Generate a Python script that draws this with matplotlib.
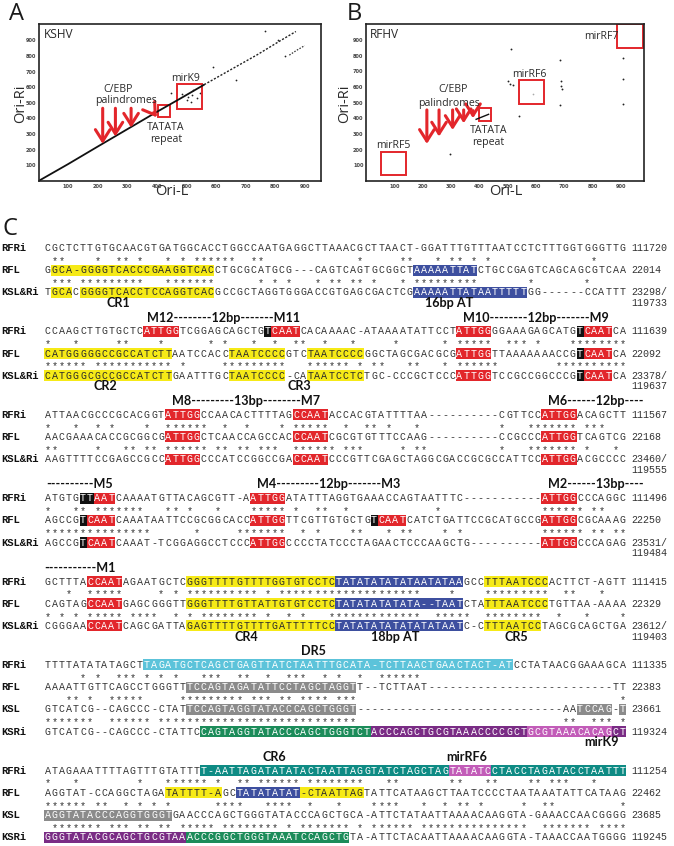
import matplotlib
matplotlib.use("Agg")
import matplotlib.pyplot as plt
from matplotlib.patches import Rectangle

FIG_W, FIG_H = 674, 846
MONO = ["Liberation Mono", "DejaVu Sans Mono"]
SANS = ["Open Sans", "DejaVu Sans"]
BOLD = ["Lato", "DejaVu Sans"]
RED = "#e3262b"

# ------------------------------ dot plot data ------------------------------
# KSHV: Ori-L position (x) against Ori-Ri position (y), bp
kshv_line_x = [0, 100, 200, 300, 400, 480, 560]
kshv_line_y = [0, 108, 220, 331, 442, 528, 616]
kshv_tail_x = [560, 650, 740, 820, 870]
kshv_tail_y = [616, 712, 808, 900, 956]
kshv_side_x = [848, 872, 900]
kshv_side_y = [805, 835, 866]
kshv_dot_x = [766, 811, 833, 589, 668, 448, 484, 507, 518, 523, 501, 515, 535, 545]
kshv_dot_y = [959, 902, 800, 731, 646, 561, 556, 539, 550, 582, 518, 507, 528, 560]

# RFHV
rfhv_seg_x = [389, 411, 433]
rfhv_seg_y = [394, 410, 426]
rfhv_dot_x = [512, 540, 298, 684, 689, 689, 692, 686, 909, 909, 909, 500, 510, 521]
rfhv_dot_y = [842, 416, 173, 774, 640, 608, 586, 484, 785, 652, 495, 640, 617, 614]
rfhv_faint_x = [589]
rfhv_faint_y = [556]

ticks = [100, 200, 300, 400, 500, 600, 700, 800, 900]

# annotations (bp coordinates)
kshv_arrows = [(217, 465, 217, 237), (260, 465, 260, 284), (313, 465, 313, 341), (389, 437, 400, 407)]
kshv_boxes = [(405, 412, 38, 74), (467, 458, 85, 160)]
kshv_notes = [("KSHV", 17, 934, "left", 8.6), ("C/EBP", 270, 588, "center", 7.6),
              ("palindromes", 296, 512, "center", 7.6), ("TATATA", 430, 341, "center", 7.6),
              ("repeat", 430, 266, "center", 7.6), ("mirK9", 498, 654, "center", 7.6)]
rfhv_arrows = [(215, 454, 215, 237), (258, 454, 258, 284), (306, 454, 306, 326),
               (345, 454, 345, 369), (378, 450, 378, 401)]
rfhv_boxes = [(54, 38, 87, 150), (539, 490, 90, 156), (398, 386, 42, 79), (888, 849, 90, 153)]
rfhv_notes = [("RFHV", 15, 934, "left", 8.6), ("C/EBP", 306, 582, "center", 7.6),
              ("palindromes", 292, 497, "center", 7.6), ("TATATA", 433, 322, "center", 7.6),
              ("repeat", 433, 245, "center", 7.6), ("mirRF5", 98, 224, "center", 7.6),
              ("mirRF6", 578, 682, "center", 7.6), ("mirRF7", 831, 923, "center", 7.6)]

# ------------------------------ alignment data ------------------------------
names_3 = ["RFRi", "RFL", "KSL&Ri"]
names_4 = ["RFRi", "RFL", "KSL", "KSRi"]

seq_1 = ["CGCTCTTGTGCAACGTGATGGCACCTGGCCAATGAGGCTTAAACGCTTAACT-GGATTTGTTTAATCCTCTTTGGTGGGTTG",
         "GGCA-GGGGTCACCCGAAGGTCACCTGCGCATGCG---CAGTCAGTGCGGCTAAAAATTATCTGCCGAGTCAGCAGCGTCAA",
         "TGCACGGGGTCACCTCCAGGTCACGCCGCTAGGTGGGACCGTGAGCGACTCGAAAAATTATAATTTTTGG------CCATTT"]
end_1 = ["111720", "22014", "23298/", "119733"]
box_1 = [(1, 1, 23, "yellow"), (2, 1, 3, "yellow"), (2, 5, 23, "yellow"),
         (1, 52, 60, "blue"), (2, 52, 67, "blue")]
head_1 = []
foot_1 = [("CR1", 10.5), ("16bp AT", 57.0)]

seq_2 = ["CCAAGCTTGTGCTCATTGGTCGGAGCAGCTGTCAATCACAAAAC-ATAAAATATTCCTATTGGGGAAAGAGCATGTCAATCA",
         "CATGGGGGCCGCCATCTTAATCCACCTAATCCCCGTCTAATCCCCGGCTAGCGACGCGATTGGTTAAAAAAACCGTCAATCA",
         "CATGGGCGCCGCCATCTTGAATTTGCTAATCCCC-CATAATCCTCTGC-CCCGCTCCCATTGGTCCGCCGGCCCGTCAATCA"]
end_2 = ["111639", "22092", "23378/", "119637"]
box_2 = [(0, 14, 18, "red"), (0, 31, 31, "black"), (0, 32, 35, "red"), (0, 58, 62, "red"),
         (0, 75, 75, "black"), (0, 76, 79, "red"),
         (1, 0, 17, "yellow"), (1, 26, 33, "yellow"), (1, 37, 44, "yellow"), (1, 58, 62, "red"),
         (1, 75, 75, "black"), (1, 76, 79, "red"),
         (2, 0, 17, "yellow"), (2, 26, 33, "yellow"), (2, 37, 44, "yellow"), (2, 58, 62, "red"),
         (2, 75, 75, "black"), (2, 76, 79, "red")]
head_2 = [("M12--------12bp-------M11", 14.5, 36.0), ("M10--------12bp-------M9", 59.0, 79.6)]
foot_2 = [("CR2", 8.6), ("CR3", 36.0)]

seq_3 = ["ATTAACGCCCGCACGGTATTGGCCAACACTTTTAGCCAATACCACGTATTTTAA----------CGTTCCATTGGACAGCTT",
         "AACGAAACACCGCGGCGATTGGCTCAACCAGCCACCCAATCGCGTGTTTCCAAG----------CCGCCCATTGGTCAGTCG",
         "AAGTTTTCCGAGCCGCCATTGGCCCATCCGGCCGACCAATCCCGTTCGAGCTAGGCGACCGCGCCATTCCATTGGACGCCCC"]
end_3 = ["111567", "22168", "23460/", "119555"]
box_3 = [(r, a, b, "red") for r in range(3) for (a, b) in [(17, 21), (35, 39), (70, 74)]]
head_3 = [("M8---------13bp--------M7", 17.6, 39.2), ("M6------12bp----", 70.8, 84.6)]
foot_3 = []

seq_4 = ["ATGTGTTAATCAAAATGTTACAGCGTT-AATTGGATATTTAGGTGAAACCAGTAATTTC-----------ATTGGCCCAGGC",
         "AGCCGTCAATCAAATAATTCCGCGGCACCATTGGTTCGTTGTGCTGTCAATCATCTGATTCCGCATGCCGATTGGCGCAAAG",
         "AGCCGTCAATCAAAT-TCGGAGGCCTCCCATTGGCCCCTATCCCTAGAACTCCCAAGCTG----------ATTGGCCCAGAG"]
end_4 = ["111496", "22250", "23531/", "119484"]
box_4 = [(0, 5, 6, "black"), (0, 7, 9, "red"), (0, 29, 33, "red"), (0, 70, 74, "red"),
         (1, 5, 5, "black"), (1, 6, 9, "red"), (1, 29, 33, "red"), (1, 46, 46, "black"),
         (1, 47, 50, "red"), (1, 70, 74, "red"),
         (2, 5, 5, "black"), (2, 6, 9, "red"), (2, 29, 33, "red"), (2, 70, 74, "red")]
head_4 = [("----------M5", 0.0, 10.0), ("M4---------12bp-------M3", 29.8, 50.5),
          ("M2------13bp----", 70.8, 84.6)]
foot_4 = []

seq_5 = ["GCTTTACCAATAGAATGCTCGGGTTTTGTTTTGGTGTCCTCTATATATATATAATATAAGCCTTTAATCCCACTTCT-AGTT",
         "CAGTAGCCAATGAGCGGGTTGGGTTTTGTTATTGTGTCCTCTATATATATATA--TAATCTATTTAATCCCTGTTAA-AAAA",
         "CGGGAACCAATCAGCGATTAGAGTTTTGTTTTGATTTTTCCTATATATATATATATAATC-CTTTAATCCTAGCGCAGCTGA"]
end_5 = ["111415", "22329", "23612/", "119403"]
box_5 = [(r, 6, 10, "red") for r in range(3)] + [(r, 20, 40, "yellow") for r in range(3)] + \
        [(r, 41, 58, "blue") for r in range(3)] + \
        [(0, 62, 70, "yellow"), (1, 62, 70, "yellow"), (2, 62, 69, "yellow")]
head_5 = [("-----------M1", 0.0, 10.0)]
foot_5 = [("CR4", 28.5), ("18bp AT", 49.4), ("CR5", 66.5)]

seq_6 = ["TTTTATATATAGCTTAGATGCTCAGCTGAGTTATCTAATTTGCATA-TCTTAACTGAACTACT-ATCCTATAACGGAAAGCA",
         "AAAATTGTTCAGCCTGGGTTTCCAGTAGATATTCCTAGCTAGGTT--TCTTAAT--------------------------TT",
         "GTCATCG--CAGCCC-CTATTCCAGTAGGTATACCCAGCTGGGT-----------------------------AATCCAG-T",
         "GTCATCG--CAGCCC-CTATTCCAGTAGGTATACCCAGCTGGGTCTACCCAGCTGCGTAAACCCCGCTGCGTAAACACAGCT"]
end_6 = ["111335", "22383", "23661", "119324", ""]
box_6 = [(0, 14, 65, "cyan"), (1, 20, 43, "grey"), (2, 20, 43, "grey"), (2, 75, 79, "grey"),
         (2, 81, 81, "grey"), (3, 22, 45, "green"), (3, 46, 67, "purple"), (3, 68, 79, "pink"),
         (3, 80, 81, "purple")]
head_6 = [("DR5", 38.0, 38.0)]
foot_6 = [("mirK9", 78.5)]

seq_7 = ["ATAGAAATTTTAGTTTGTATTTT-AATTAGATATATACTAATTAGGTATCTAGCTAGTATATCCTACCTAGATACCTAATTT",
         "AGGTAT-CCAGGCTAGATATTTT-AGCTATATATAT-CTAATTAGTATTCATAAGCTTAATCCCCTAATAAATATTCATAAG",
         "AGGTATACCCAGGTGGGTGAACCCAGCTGGGTATACCCAGCTGCA-ATTCTATAATTAAAACAAGGTA-GAAACCAACGGGG",
         "GGGTATACGCAGCTGCGTAAACCCGGCTGGGTAAATCCAGCTGTA-ATTCTACAATTAAAACAAGGTA-TAAACCAATGGGG"]
end_7 = ["111254", "22462", "23685", "119245", ""]
box_7 = [(0, 22, 56, "teal"), (0, 57, 62, "pink"), (0, 63, 81, "teal"),
         (1, 17, 24, "yellow"), (1, 27, 35, "blue"), (1, 36, 44, "yellow"),
         (2, 0, 17, "grey"), (3, 0, 19, "purple"), (3, 20, 42, "green")]
head_7 = [("CR6", 32.5, 32.5), ("mirRF6", 59.5, 59.5)]
foot_7 = []

FILLS = {"yellow": ("#f6ea17", "#2a2a2a"), "red": ("#e2262b", "white"), "blue": ("#3d4f9f", "white"),
         "black": ("#111111", "white"), "grey": ("#8b8b8b", "white"), "cyan": ("#5cc3da", "white"),
         "teal": ("#0e8b84", "white"), "green": ("#1c8c5a", "white"), "purple": ("#7a2c85", "white"),
         "pink": ("#c25cb8", "white")}

# ------------------------------ figure ------------------------------
fig = plt.figure(figsize=(FIG_W / 100, FIG_H / 100), dpi=100)
fig.patch.set_facecolor("white")

# alignment canvas in pixel units
axc = fig.add_axes([0, 0, 1, 1])
axc.set_xlim(0, FIG_W)
axc.set_ylim(FIG_H, 0)
axc.axis("off")

PITCH = 7.1     # px per alignment column
X0 = 44.0       # left edge of column 0
P = 11.12       # px between a sequence row and its star row
SEQ_FS = 7.2
INK = "#333333"


def col_x(c):
    return X0 + (c + 0.5) * PITCH


renderer = fig.canvas.get_renderer()
probe = axc.text(0, 0, head_2[0][0], fontsize=10, family=BOLD, weight="bold")
HEAD_FS = 10 * ((head_2[0][2] - head_2[0][1]) * PITCH) / probe.get_window_extent(renderer).width
probe.remove()


def draw_block(y, names, seqs, ends, boxes, heads, feet):
    for txt, c0, c1 in heads:
        axc.text(X0 + 0.5 * (c0 + c1) * PITCH, y - 1.25 * P, txt, ha="center", va="center",
                 family=BOLD, weight="bold", fontsize=HEAD_FS, color="#111111")
    for i, (name, s) in enumerate(zip(names, seqs)):
        yy = y + 2 * i * P
        axc.text(1.5, yy, name, ha="left", va="center", family=MONO, weight="bold",
                 fontsize=7.6, color="#111111")
        ink = [INK] * len(s)
        for r, a, b, key in boxes:
            if r != i:
                continue
            face, txt_col = FILLS[key]
            axc.add_patch(Rectangle((X0 + a * PITCH, yy - 5.6), (b - a + 1) * PITCH, 11.0,
                                    facecolor=face, edgecolor="none", zorder=1))
            for c in range(a, b + 1):
                ink[c] = txt_col
        for c, ch in enumerate(s):
            axc.text(col_x(c), yy, ch, ha="center", va="center", family=MONO,
                     fontsize=SEQ_FS, color=ink[c], zorder=2)
        axc.text(X0 + 82.7 * PITCH, yy, ends[i], ha="left", va="center", family=MONO,
                 fontsize=SEQ_FS, color=INK)
        if i < len(seqs) - 1:
            nxt = seqs[i + 1]
            for c in range(len(s)):
                if c < len(nxt) and s[c] == nxt[c] and s[c] != "-":
                    axc.text(col_x(c), yy + P + 1.8, "*", ha="center", va="center",
                             family=MONO, fontsize=SEQ_FS, color=INK)
    ylast = y + 2 * (len(seqs) - 1) * P
    yfoot = ylast + 0.95 * P
    if len(ends) > len(seqs) and ends[len(seqs)]:
        axc.text(X0 + 82.7 * PITCH, yfoot, ends[len(seqs)], ha="left", va="center",
                 family=MONO, fontsize=SEQ_FS, color=INK)
    for txt, c in feet:
        axc.text(X0 + c * PITCH, yfoot, txt, ha="center", va="center", family=BOLD,
                 weight="bold", fontsize=HEAD_FS, color="#111111")
    return ylast + 3.5 * P


blocks = [(names_3, seq_1, end_1, box_1, head_1, foot_1),
          (names_3, seq_2, end_2, box_2, head_2, foot_2),
          (names_3, seq_3, end_3, box_3, head_3, foot_3),
          (names_3, seq_4, end_4, box_4, head_4, foot_4),
          (names_3, seq_5, end_5, box_5, head_5, foot_5),
          (names_4, seq_6, end_6, box_6, head_6, foot_6),
          (names_4, seq_7, end_7, box_7, head_7, foot_7)]
y = 248.0
for blk in blocks:
    y = draw_block(y, *blk)


# ------------------------------ dot plots ------------------------------
def dot_panel(left_px, right_px, xmax, ymax):
    ax = fig.add_axes([left_px / FIG_W, 1 - 181 / FIG_H, (right_px - left_px) / FIG_W, 157 / FIG_H])
    ax.set_xlim(0, xmax)
    ax.set_ylim(0, ymax)
    ax.set_xticks(ticks)
    ax.set_yticks(ticks)
    ax.tick_params(length=0, labelsize=3.6, pad=1.8, colors="#444444")
    for lab in ax.get_xticklabels() + ax.get_yticklabels():
        lab.set_fontweight("bold")
    for sp in ax.spines.values():
        sp.set_linewidth(1.2)
        sp.set_color("#222222")
    return ax


def annotate(ax, arrows, boxes, notes):
    for x0, y0, x1, y1 in arrows:
        ax.annotate("", xy=(x1, y1), xytext=(x0, y0),
                    arrowprops=dict(arrowstyle="->,head_length=0.55,head_width=0.35",
                                    color=RED, lw=2.2, shrinkA=0, shrinkB=0, mutation_scale=15))
    for bx, by, bw, bh in boxes:
        ax.add_patch(Rectangle((bx, by), bw, bh, fill=False, edgecolor=RED, lw=1.4))
    for txt, tx, ty, ha, fs in notes:
        ax.text(tx, ty, txt, ha=ha, va="center", family=SANS, fontsize=fs, color="#2a2a2a")


axa = dot_panel(38.5, 321, 955, 1004)
axa.plot(kshv_line_x, kshv_line_y, color="#111111", lw=1.3, solid_capstyle="round")
axa.plot(kshv_tail_x, kshv_tail_y, color="#222222", lw=1.0, dashes=(1.5, 1.2))
axa.plot(kshv_side_x, kshv_side_y, color="#333333", lw=0.9, dashes=(1.2, 1.2))
axa.scatter(kshv_dot_x, kshv_dot_y, s=1.6, color="#222222", lw=0)
annotate(axa, kshv_arrows, kshv_boxes, kshv_notes)

axb = dot_panel(366, 644, 982, 1003)
axb.plot(rfhv_seg_x, rfhv_seg_y, color="#111111", lw=1.0)
axb.scatter(rfhv_dot_x, rfhv_dot_y, s=1.8, color="#222222", lw=0)
axb.scatter(rfhv_faint_x, rfhv_faint_y, s=1.5, color="#aaaaaa", lw=0)
annotate(axb, rfhv_arrows, rfhv_boxes, rfhv_notes)

# axis titles and panel letters
for cx_px in (21, 345):
    fig.text(cx_px / FIG_W, 1 - 104 / FIG_H, "Ori-Ri", rotation=90, ha="center", va="center",
             family=SANS, fontsize=10.5, color="#2a2a2a")
for cx_px in (172, 506):
    fig.text(cx_px / FIG_W, 1 - 191 / FIG_H, "Ori-L", ha="center", va="center",
             family=SANS, fontsize=10.5, color="#2a2a2a")
for letter, lx, ly in (("A", 9, 2), ("B", 347, 2), ("C", 2, 217)):
    fig.text(lx / FIG_W, 1 - ly / FIG_H, letter, ha="left", va="top", family=SANS,
             fontsize=17, color="#1a1a1a")

fig.savefig("out.png", dpi=100, facecolor="white")
